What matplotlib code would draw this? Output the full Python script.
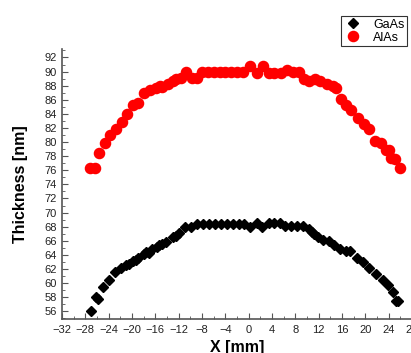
import matplotlib
matplotlib.use("Agg")
import matplotlib.pyplot as plt
from matplotlib.ticker import MultipleLocator

plt.rcParams['font.family'] = ['Liberation Sans', 'DejaVu Sans']

# AlAs layer (red circles)
x_alas = [-27.2, -26.4, -25.6, -24.6, -23.7, -22.8, -21.8, -20.8, -19.8, -18.9,
          -17.9, -16.9, -15.9, -15.2, -14.9, -13.9, -13.0, -12.5, -11.6, -10.7,
          -9.8, -8.9, -8.0, -7.0, -6.0, -5.0, -4.0, -3.0, -2.0, -1.0,
          0.2, 1.4, 2.4, 3.4, 4.4, 5.6, 6.6, 7.6, 8.6, 9.5,
          10.4, 11.4, 12.3, 13.5, 14.4, 14.9, 15.8, 16.7, 17.6, 18.7,
          19.8, 20.6, 21.6, 22.6, 23.6, 24.0, 24.4, 25.0, 25.9]
y_alas = [76.3, 76.3, 78.5, 79.8, 81.0, 81.9, 82.8, 84.0, 85.3, 85.6,
          87.0, 87.35, 87.7, 87.9, 87.8, 88.3, 88.6, 88.9, 89.1, 90.0,
          89.1, 89.1, 89.9, 89.9, 89.9, 89.9, 89.9, 89.9, 89.9, 89.9,
          90.8, 89.8, 90.8, 89.8, 89.8, 89.8, 90.2, 89.9, 89.9, 89.0,
          88.6, 89.0, 88.6, 88.3, 87.9, 87.7, 86.1, 85.3, 84.6, 83.4,
          82.6, 81.8, 80.2, 79.8, 78.9, 78.9, 77.7, 77.6, 76.3]

# GaAs layer (black diamonds)
x_gaas = [-27.0, -26.1, -25.9, -25.0, -23.9, -22.9, -21.9, -21.1, -20.5, -19.9,
          -19.4, -18.9, -18.0, -17.6, -17.1, -16.5, -15.7, -15.3, -14.8, -14.2,
          -13.0, -12.5, -11.9, -10.9, -9.9, -8.8, -7.8, -6.8, -5.8, -4.7,
          -3.7, -2.7, -1.7, -0.8, 0.2, 1.4, 2.2, 3.4, 4.4, 5.4,
          6.3, 7.3, 8.3, 9.3, 10.3, 10.8, 11.2, 11.9, 12.8, 13.8,
          14.7, 15.6, 16.7, 17.4, 18.5, 19.6, 20.7, 21.9, 23.0, 23.9,
          24.7, 25.2, 25.6]
y_gaas = [56.0, 58.0, 57.8, 59.5, 60.5, 61.6, 62.1, 62.5, 62.7, 63.1,
          63.3, 63.6, 64.1, 64.4, 64.3, 64.8, 65.1, 65.4, 65.6, 65.8,
          66.5, 66.7, 67.1, 67.95, 67.95, 68.4, 68.4, 68.4, 68.4, 68.4,
          68.4, 68.4, 68.4, 68.4, 67.95, 68.5, 67.9, 68.5, 68.5, 68.5,
          68.1, 68.1, 68.1, 68.1, 67.6, 67.3, 67.0, 66.6, 66.1, 66.0,
          65.4, 64.9, 64.6, 64.6, 63.5, 63.0, 62.2, 61.3, 60.4, 59.7,
          58.7, 57.4, 57.5]

fig = plt.figure(figsize=(4.11, 3.53), dpi=100)
ax = fig.add_axes([62 / 411, 1 - 319 / 353, 350 / 411, 270 / 353])

ax.plot(x_gaas, y_gaas, 'D', color='black', markersize=5.3, label='GaAs')
ax.plot(x_alas, y_alas, 'o', color='#ff0000', markersize=7.3, label='AlAs')

ax.set_xlim(-32, 28)
ax.set_ylim(54.9, 93.2)
ax.xaxis.set_major_locator(MultipleLocator(4))
ax.xaxis.set_minor_locator(MultipleLocator(2))
ax.yaxis.set_major_locator(MultipleLocator(2))
ax.yaxis.set_minor_locator(MultipleLocator(1))
ax.tick_params(which='both', direction='in', labelsize=8, colors='#555555',
               labelcolor='#222222')
ax.tick_params(which='major', length=4)
ax.tick_params(which='minor', length=2)
ax.tick_params(axis='x', pad=4)

ax.spines['top'].set_visible(False)
ax.spines['right'].set_visible(False)
for s in ('left', 'bottom'):
    ax.spines[s].set_color('#555555')
    ax.spines[s].set_linewidth(1.2)

ax.set_xlabel('X [mm]', fontsize=11.5, fontweight='bold', labelpad=4)
ax.set_ylabel('Thickness [nm]', fontsize=11.5, fontweight='bold', labelpad=12)

leg = fig.legend(loc='upper right', bbox_to_anchor=(407 / 411, 1 - 16 / 353),
                 fontsize=9, frameon=True, fancybox=False, borderpad=0.2,
                 handletextpad=0.8, labelspacing=0.1, handlelength=1.6,
                 borderaxespad=0)
leg.get_frame().set_edgecolor('black')
leg.get_frame().set_linewidth(0.8)

fig.savefig('out.png', dpi=100)
